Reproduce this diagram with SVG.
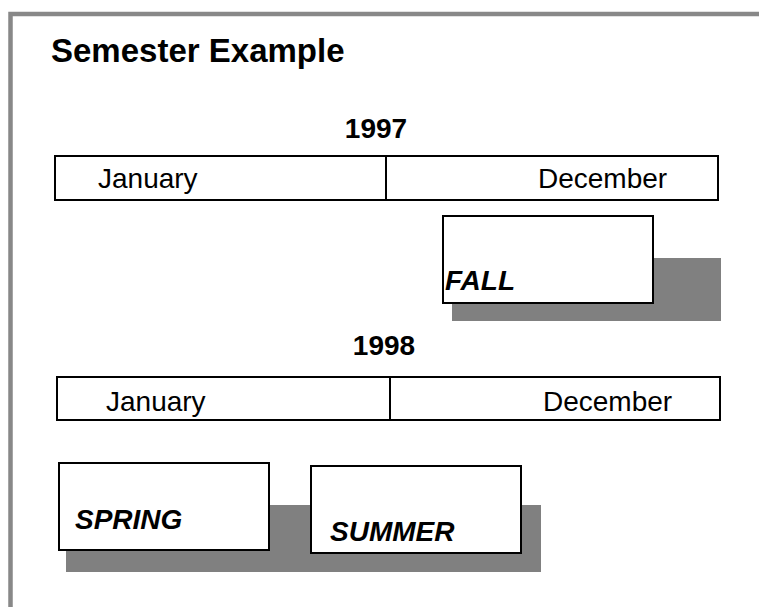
<svg xmlns="http://www.w3.org/2000/svg" width="759" height="607" viewBox="0 0 759 607">
<style>
.frame{fill:none;stroke:#888888;stroke-width:4.5}
.bar{fill:#ffffff;stroke:#000000;stroke-width:2}
.box{fill:#ffffff;stroke:#000000;stroke-width:2}
.shadow{fill:#808080;stroke:none}
.t{font-family:"Liberation Sans",Arial,sans-serif;fill:#000000}
.title{font-size:33px;font-weight:bold}
.year{font-size:28px;font-weight:bold}
.month{font-size:28px}
.sem{font-size:28px;font-weight:bold;font-style:italic}
</style>
<rect x="0" y="0" width="759" height="607" fill="#ffffff"/>
<path class="frame" d="M10.5,607 V14 H759"/>
<text class="t title" x="51" y="62">Semester Example</text>

<g id="year1997">
  <text class="t year" x="376" y="138" text-anchor="middle">1997</text>
  <rect class="bar" x="55" y="156" width="663" height="44"/>
  <line x1="386" y1="156" x2="386" y2="200" stroke="#000" stroke-width="2"/>
  <text class="t month" x="98" y="188">January</text>
  <text class="t month" x="538" y="188">December</text>
</g>

<g id="fall">
  <rect class="shadow" x="452" y="258" width="269" height="63"/>
  <rect class="box" x="443" y="216" width="210" height="87"/>
  <text class="t sem" x="445" y="290">FALL</text>
</g>

<g id="year1998">
  <text class="t year" x="384" y="355" text-anchor="middle">1998</text>
  <rect class="bar" x="57" y="377" width="663" height="43"/>
  <line x1="390" y1="377" x2="390" y2="420" stroke="#000" stroke-width="2"/>
  <text class="t month" x="106" y="411">January</text>
  <text class="t month" x="543" y="411">December</text>
</g>

<g id="spring">
  <rect class="shadow" x="66" y="505" width="260" height="67"/>
  <rect class="box" x="59" y="463" width="210" height="87"/>
  <text class="t sem" x="75" y="529">SPRING</text>
</g>

<g id="summer">
  <rect class="shadow" x="320" y="505" width="221" height="67"/>
  <rect class="box" x="311" y="466" width="210" height="87"/>
  <text class="t sem" x="330" y="541">SUMMER</text>
</g>

<g id="connectors"></g>
</svg>
